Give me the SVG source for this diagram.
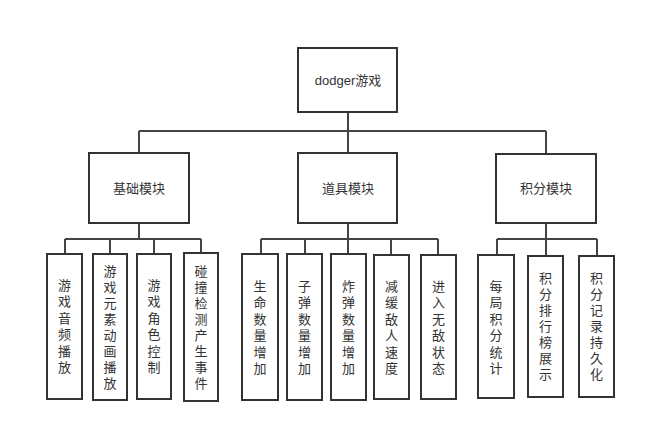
<svg xmlns="http://www.w3.org/2000/svg" width="646" height="432" viewBox="0 0 646 432">
<style>
.b{fill:#fff;stroke:#333;stroke-width:2}
.t{font-family:"Liberation Sans","Noto Sans CJK SC",sans-serif;font-size:13px;fill:#333;text-anchor:middle;dominant-baseline:central}
.c{fill:none;stroke:#444;stroke-width:2}
</style>
<rect width="646" height="432" fill="#fff"/>
<g id="connectors">
<path class="c" d="M348 112V131M139 131H546M139 131V153M348 131V153M546 131V154"/>
<path class="c" d="M139 223V239M65 239H201M65 239V254M110 239V254M154 239V254M201 239V253"/>
<path class="c" d="M348 223V239M261 239H438M261 239V254M305 239V254M348 239V254M391 239V255M438 239V255"/>
<path class="c" d="M546 223V239M497 239H597M497 239V255M546 239V256M597 239V256"/>
</g>
<g id="root"><rect class="b" x="298" y="48" width="99" height="64"/><text class="t" x="348" y="80">dodger游戏</text></g>
<g id="m1"><rect class="b" x="89" y="153" width="100" height="70"/><text class="t" x="139" y="188">基础模块</text></g>
<g id="m2"><rect class="b" x="298" y="153" width="99" height="70"/><text class="t" x="348" y="188">道具模块</text></g>
<g id="m3"><rect class="b" x="496" y="154" width="100" height="69"/><text class="t" x="546" y="188">积分模块</text></g>
<g id="a1"><rect class="b" x="47" y="254" width="35" height="145"/><text class="t" x="64.5" y="285"><tspan x="64.5">游</tspan><tspan x="64.5" dy="16.4">戏</tspan><tspan x="64.5" dy="16.4">音</tspan><tspan x="64.5" dy="16.4">频</tspan><tspan x="64.5" dy="16.4">播</tspan><tspan x="64.5" dy="16.4">放</tspan></text></g>
<g id="a2"><rect class="b" x="93" y="254" width="34" height="146"/><text class="t" x="110" y="271"><tspan x="110">游</tspan><tspan x="110" dy="16">戏</tspan><tspan x="110" dy="16">元</tspan><tspan x="110" dy="16">素</tspan><tspan x="110" dy="16">动</tspan><tspan x="110" dy="16">画</tspan><tspan x="110" dy="16">播</tspan><tspan x="110" dy="16">放</tspan></text></g>
<g id="a3"><rect class="b" x="137" y="254" width="34" height="145"/><text class="t" x="154" y="285"><tspan x="154">游</tspan><tspan x="154" dy="16.4">戏</tspan><tspan x="154" dy="16.4">角</tspan><tspan x="154" dy="16.4">色</tspan><tspan x="154" dy="16.4">控</tspan><tspan x="154" dy="16.4">制</tspan></text></g>
<g id="a4"><rect class="b" x="184" y="253" width="34" height="148"/><text class="t" x="201" y="271"><tspan x="201">碰</tspan><tspan x="201" dy="16">撞</tspan><tspan x="201" dy="16">检</tspan><tspan x="201" dy="16">测</tspan><tspan x="201" dy="16">产</tspan><tspan x="201" dy="16">生</tspan><tspan x="201" dy="16">事</tspan><tspan x="201" dy="16">件</tspan></text></g>
<g id="b1"><rect class="b" x="242" y="254" width="36" height="146"/><text class="t" x="260" y="286"><tspan x="260">生</tspan><tspan x="260" dy="16.4">命</tspan><tspan x="260" dy="16.4">数</tspan><tspan x="260" dy="16.4">量</tspan><tspan x="260" dy="16.4">增</tspan><tspan x="260" dy="16.4">加</tspan></text></g>
<g id="b2"><rect class="b" x="287" y="254" width="35" height="146"/><text class="t" x="304.5" y="286"><tspan x="304.5">子</tspan><tspan x="304.5" dy="16.4">弹</tspan><tspan x="304.5" dy="16.4">数</tspan><tspan x="304.5" dy="16.4">量</tspan><tspan x="304.5" dy="16.4">增</tspan><tspan x="304.5" dy="16.4">加</tspan></text></g>
<g id="b3"><rect class="b" x="331" y="254" width="35" height="146"/><text class="t" x="348.5" y="286"><tspan x="348.5">炸</tspan><tspan x="348.5" dy="16.4">弹</tspan><tspan x="348.5" dy="16.4">数</tspan><tspan x="348.5" dy="16.4">量</tspan><tspan x="348.5" dy="16.4">增</tspan><tspan x="348.5" dy="16.4">加</tspan></text></g>
<g id="b4"><rect class="b" x="374" y="255" width="35" height="144"/><text class="t" x="391.5" y="286"><tspan x="391.5">减</tspan><tspan x="391.5" dy="16.4">缓</tspan><tspan x="391.5" dy="16.4">敌</tspan><tspan x="391.5" dy="16.4">人</tspan><tspan x="391.5" dy="16.4">速</tspan><tspan x="391.5" dy="16.4">度</tspan></text></g>
<g id="b5"><rect class="b" x="421" y="255" width="35" height="144"/><text class="t" x="438.5" y="286"><tspan x="438.5">进</tspan><tspan x="438.5" dy="16.4">入</tspan><tspan x="438.5" dy="16.4">无</tspan><tspan x="438.5" dy="16.4">敌</tspan><tspan x="438.5" dy="16.4">状</tspan><tspan x="438.5" dy="16.4">态</tspan></text></g>
<g id="c1"><rect class="b" x="478" y="255" width="36" height="143"/><text class="t" x="496" y="286"><tspan x="496">每</tspan><tspan x="496" dy="16.4">局</tspan><tspan x="496" dy="16.4">积</tspan><tspan x="496" dy="16.4">分</tspan><tspan x="496" dy="16.4">统</tspan><tspan x="496" dy="16.4">计</tspan></text></g>
<g id="c2"><rect class="b" x="528" y="256" width="35" height="141"/><text class="t" x="545.5" y="278"><tspan x="545.5">积</tspan><tspan x="545.5" dy="16">分</tspan><tspan x="545.5" dy="16">排</tspan><tspan x="545.5" dy="16">行</tspan><tspan x="545.5" dy="16">榜</tspan><tspan x="545.5" dy="16">展</tspan><tspan x="545.5" dy="16">示</tspan></text></g>
<g id="c3"><rect class="b" x="579" y="256" width="35" height="141"/><text class="t" x="596.5" y="278"><tspan x="596.5">积</tspan><tspan x="596.5" dy="16">分</tspan><tspan x="596.5" dy="16">记</tspan><tspan x="596.5" dy="16">录</tspan><tspan x="596.5" dy="16">持</tspan><tspan x="596.5" dy="16">久</tspan><tspan x="596.5" dy="16">化</tspan></text></g>
</svg>
